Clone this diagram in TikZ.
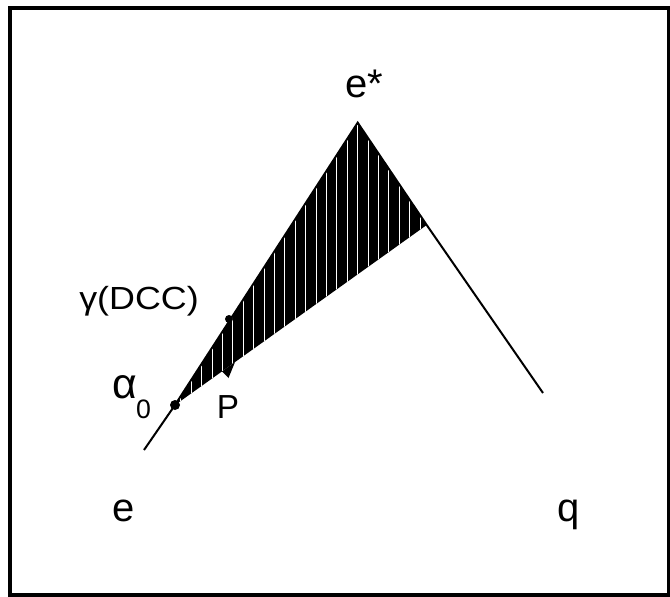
\documentclass[tikz,border=0pt]{standalone}
\usepackage{fontspec}
\setmainfont{Liberation Sans}
\usepackage{tikz}
\tikzset{every picture/.style={line width=1.5pt}}

\begin{document}
\begin{tikzpicture}[x=.75pt,y=-.75pt,
 every node/.style={inner sep=0pt,anchor=base},
 biglbl/.style={font=\fontsize{30}{36}\selectfont},
 midlbl/.style={font=\fontsize{25}{30}\selectfont},
 widelbl/.style={font=\fontsize{24}{29}\selectfont}]
 \useasboundingbox (0,0) rectangle (670,596);
 \draw[line width=3pt] (10,7.5) rectangle (669,594.5);

 % the shaded cone between alpha_0, e* and the rim point
 \coordinate (apex) at (357.7,122.7);
 \coordinate (alpha) at (175,405);
 \coordinate (rim) at (426.7,225);
 \coordinate (dcc) at (229,319);
 \coordinate (eend) at (144,450);
 \coordinate (qend) at (543,393);
 \fill (alpha)--(apex)--(rim)--cycle;
 \begin{scope}
  \clip (alpha)--(apex)--(rim)--cycle;
  \foreach \k in {-18,...,7}
   \draw[white,line width=.8pt]
    ({357.7+10.4*\k},100)--({357.7+10.4*\k},420);
 \end{scope}
 \draw (eend)--(alpha)--(apex)--(rim)--(qend);
 \fill (alpha) circle (5);
 \fill (dcc) circle (4);
 \fill (222,371.4)--(235,362.1)--(228.5,378)--cycle;

 % labels
 \node[biglbl] (estar) at (364.5,97) {e*};
 \node[biglbl] (elbl) at (124,521) {e};
 \node[biglbl] (qlbl) at (569,521) {q};
 \node[midlbl] (plbl) at (228,418) {P};
 \node[widelbl] (gdcc) at (139,309) {\scalebox{1.12}[1]{γ(DCC)}};
 \node[font=\fontsize{32}{38}\selectfont,anchor=base west]
  (albl) at (111,398) {α};
 \node[font=\fontsize{20}{24}\selectfont,anchor=base west]
  (azero) at (135,418) {0};
\end{tikzpicture}
\end{document}
